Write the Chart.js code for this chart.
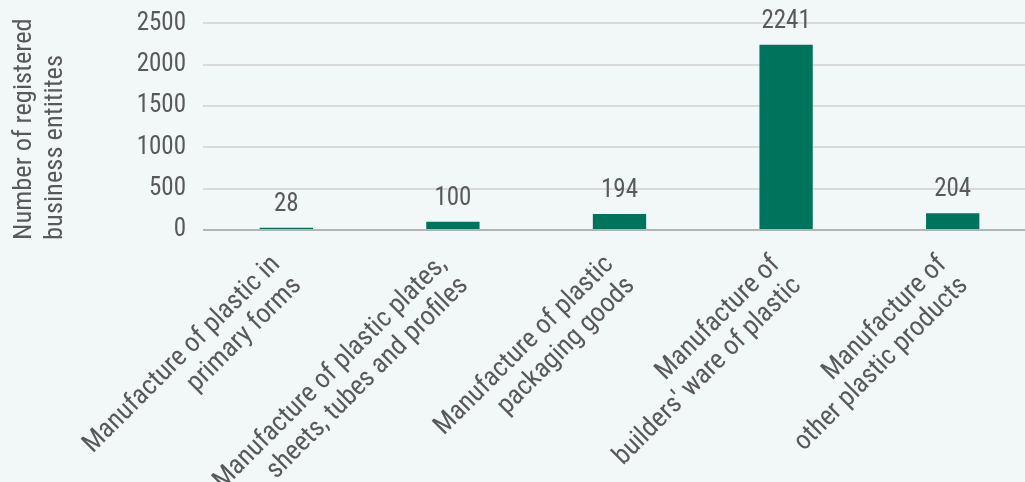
<!DOCTYPE html>
<html>
<head>
<meta charset="utf-8">
<script src="https://cdn.jsdelivr.net/npm/chart.js@4.4.0/dist/chart.umd.min.js"></script>
<style>
  html, body { margin: 0; padding: 0; background: #f2f7f7; overflow: hidden; }
  #wrap { width: 1036px; height: 482px; position: relative; }
</style>
</head>
<body>
<div id="wrap"><canvas id="chart"></canvas></div>
<script>
// chart data
const categories = [
    ['Manufacture of plastic in', 'primary forms'],
    ['Manufacture of plastic plates,', 'sheets, tubes and profiles'],
    ['Manufacture of plastic', 'packaging goods'],
    ['Manufacture of', "builders' ware of plastic"],
    ['Manufacture of', 'other plastic products']
];
const entities = [28, 100, 194, 2241, 204];
const yTicks = [0, 500, 1000, 1500, 2000, 2500];
const yTitle = ['Number of registered', 'business entitites'];

const FONT = '"Roboto Condensed", "DejaVu Sans Condensed", sans-serif';
const TEXT = '#595959';

// numbers above the bars
const valueLabels = {
    id: 'valueLabels',
    afterDatasetsDraw(chart) {
        const ctx = chart.ctx;
        const meta = chart.getDatasetMeta(0);
        ctx.save();
        ctx.font = '25px ' + FONT;
        ctx.fillStyle = TEXT;
        ctx.textAlign = 'center';
        ctx.textBaseline = 'alphabetic';
        meta.data.forEach((bar, i) => {
            ctx.fillText(String(entities[i]), bar.x, bar.y - 17);
        });
        ctx.restore();
    }
};

// y axis title, lines start-aligned at the bottom
const axisTitle = {
    id: 'axisTitle',
    afterDraw(chart) {
        const ctx = chart.ctx;
        ctx.save();
        ctx.translate(0, 240);
        ctx.rotate(-Math.PI / 2);
        ctx.font = '26.5px ' + FONT;
        ctx.fillStyle = TEXT;
        ctx.textAlign = 'left';
        ctx.textBaseline = 'alphabetic';
        yTitle.forEach((line, i) => ctx.fillText(line, 0, 31 + i * 31));
        ctx.restore();
    }
};

new Chart(document.getElementById('chart'), {
    type: 'bar',
    data: {
        labels: categories,
        datasets: [{
            data: entities,
            backgroundColor: '#00735c',
            barPercentage: 0.32,
            categoryPercentage: 1
        }]
    },
    options: {
        responsive: true,
        maintainAspectRatio: false,
        animation: false,
        layout: { padding: { top: 23, right: 0, left: 0, bottom: 0 } },
        plugins: {
            legend: { display: false },
            tooltip: { enabled: false }
        },
        scales: {
            x: {
                grid: { display: false, drawTicks: false },
                border: { display: false },
                ticks: {
                    color: TEXT,
                    font: { family: FONT, size: 27, lineHeight: 1.11 },
                    maxRotation: 45,
                    minRotation: 45,
                    padding: 20,
                    labelOffset: -10,
                    autoSkip: false
                },
                afterFit(scale) { scale.height = 252; }
            },
            y: {
                min: 0,
                max: 2500,
                afterBuildTicks(scale) { scale.ticks = yTicks.map(v => ({ value: v })); },
                grid: {
                    color: (c) => c.tick && c.tick.value === 0 ? '#b4b4b4' : '#dadada',
                    lineWidth: 2,
                    drawTicks: false
                },
                border: { display: false },
                ticks: {
                    color: TEXT,
                    font: { family: FONT, size: 25, lineHeight: 0.5 },
                    padding: 17,
                    callback: (v) => String(v)
                },
                afterFit(scale) { scale.width = 203; }
            }
        }
    },
    plugins: [valueLabels, axisTitle]
});
</script>
</body>
</html>
